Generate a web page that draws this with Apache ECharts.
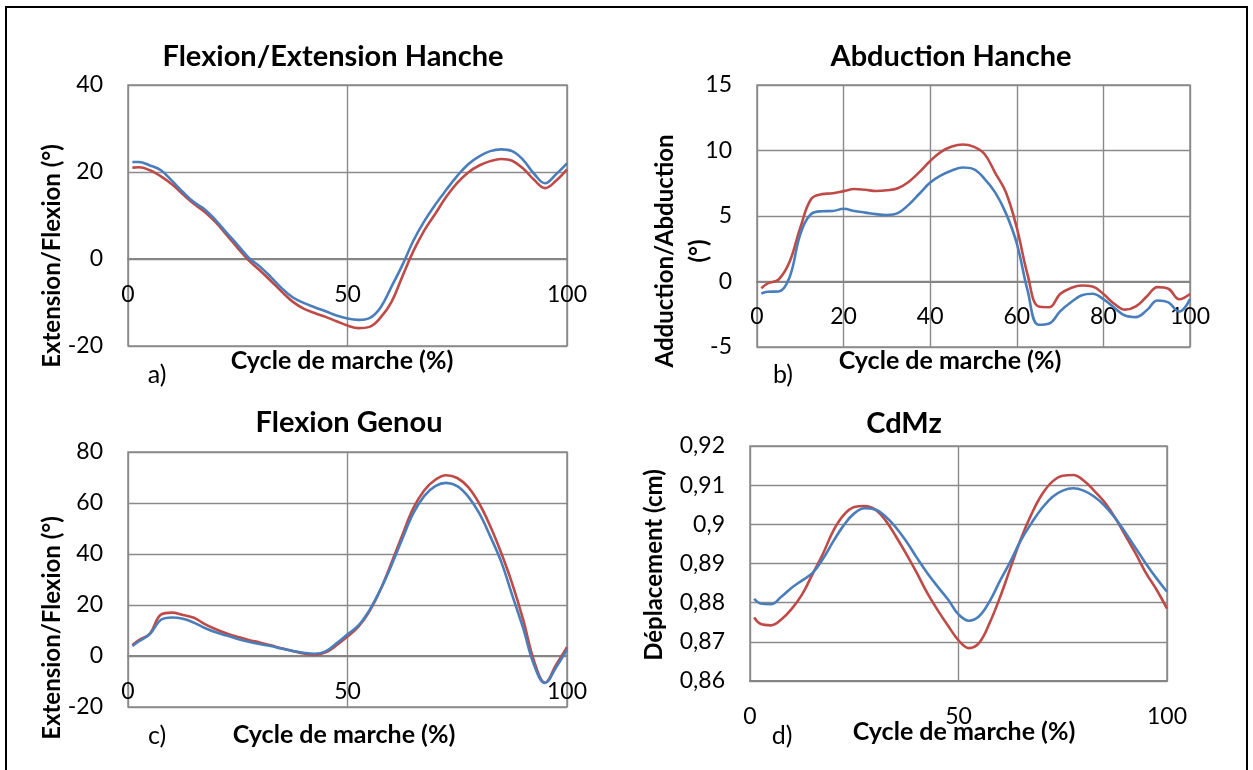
<!DOCTYPE html>
<html>
<head>
<meta charset="utf-8">
<script src="https://cdn.jsdelivr.net/npm/echarts@6/dist/echarts.min.js"></script>
<style>
  html, body { margin: 0; padding: 0; background: #ffffff; }
  #chart { width: 1253px; height: 770px; }
</style>
</head>
<body>
<div id="chart"></div>
<script>
// Gait cycle sampling (% of cycle)
const cycle = [1, 2.5, 5, 7.5, 10, 12.5, 15, 17.5, 20, 22.5, 25, 27.5, 30, 32.5, 35, 37.5, 40, 42.5, 45, 47.5,
  50, 52.5, 55, 57.5, 60, 62.5, 65, 67.5, 70, 72.5, 75, 77.5, 80, 82.5, 85, 87.5, 90, 92.5, 95, 97.5, 100];

// a) Hip flexion/extension (°)
const hipFlexBlue = [22.3, 22.3, 21.5, 20.4, 18.0, 15.4, 13.1, 11.4, 8.9, 6.0, 3.2, 0.3, -1.7, -4.1, -6.7, -8.8,
  -10.1, -11.1, -12.0, -13.0, -13.7, -14.0, -13.6, -11.2, -6.4, -1.4, 4.2, 8.7, 12.5, 15.9, 19.1, 21.8, 23.6,
  24.8, 25.2, 24.8, 22.8, 19.6, 17.4, 19.5, 22.0];
const hipFlexRed = [21.0, 21.1, 20.4, 19.0, 17.2, 14.9, 12.7, 10.8, 8.4, 5.5, 2.5, -0.3, -2.6, -5.0, -7.5, -9.8,
  -11.4, -12.4, -13.3, -14.3, -15.3, -15.9, -15.6, -13.5, -9.9, -4.0, 1.8, 6.6, 10.4, 14.3, 17.5, 19.9, 21.5,
  22.5, 23.0, 22.6, 20.8, 18.2, 16.3, 18.0, 20.6];

// b) Hip abduction (°)
const hipAbdBlue = [-0.92, -0.78, -0.76, 0.3, 3.6, 5.15, 5.36, 5.38, 5.55, 5.38, 5.26, 5.14, 5.08, 5.22, 5.85,
  6.7, 7.55, 8.1, 8.48, 8.7, 8.58, 7.86, 6.8, 5.2, 2.9, -0.7, -3.3, -3.2, -2.28, -1.58, -1.05, -0.93, -1.35,
  -2.0, -2.6, -2.72, -2.2, -1.45, -1.6, -2.3, -1.35];
const hipAbdRed = [-0.52, -0.15, 0.15, 1.48, 4.1, 6.3, 6.67, 6.73, 6.9, 7.06, 7.0, 6.91, 6.96, 7.12, 7.6, 8.35,
  9.2, 9.9, 10.3, 10.46, 10.3, 9.75, 8.3, 6.8, 4.1, 0.5, -1.9, -1.96, -0.95, -0.5, -0.3, -0.38, -0.95, -1.7,
  -2.15, -1.9, -1.15, -0.43, -0.55, -1.35, -0.95];

// c) Knee flexion (°)
const kneeFlexBlue = [3.9, 5.8, 8.6, 14.2, 15.1, 14.6, 13.1, 11.0, 9.3, 8.0, 6.7, 5.6, 4.7, 3.9, 2.9, 2.0, 1.3,
  0.9, 1.8, 5.0, 8.5, 12.0, 18.0, 26.0, 35.5, 46.0, 56.0, 62.8, 66.6, 67.9, 66.6, 62.5, 56.0, 47.0, 37.0, 24.0,
  11.0, -3.5, -10.6, -4.5, 2.5];
const kneeFlexRed = [4.3, 6.2, 8.8, 16.2, 17.0, 16.1, 15.0, 12.5, 10.5, 8.8, 7.5, 6.3, 5.3, 4.2, 3.0, 2.0, 1.0,
  0.4, 1.4, 4.2, 7.6, 11.5, 17.5, 26.0, 36.5, 47.5, 58.0, 65.0, 69.1, 70.9, 69.8, 66.2, 59.8, 51.0, 40.5, 28.5,
  14.4, -2.0, -10.5, -3.5, 3.5];

// d) Vertical centre of mass displacement (cm)
const comZBlue = [0.8810, 0.8798, 0.8796, 0.8815, 0.8838, 0.8857, 0.8876, 0.8912, 0.8957, 0.8998, 0.9028, 0.9041,
  0.9038, 0.9020, 0.8992, 0.8956, 0.8915, 0.8876, 0.8841, 0.8808, 0.8770, 0.8754, 0.8766, 0.8804, 0.8857, 0.8906,
  0.8960, 0.9003, 0.9041, 0.9070, 0.9086, 0.9092, 0.9086, 0.9071, 0.9048, 0.9017, 0.8979, 0.8939, 0.8899, 0.8862,
  0.8828];
const comZRed = [0.8762, 0.8746, 0.8742, 0.8757, 0.8784, 0.8821, 0.8873, 0.8925, 0.8984, 0.9024, 0.9044, 0.9047,
  0.9038, 0.9010, 0.8969, 0.8924, 0.8876, 0.8825, 0.8781, 0.8741, 0.8704, 0.8684, 0.8698, 0.8749, 0.8815, 0.8890,
  0.8964, 0.9026, 0.9076, 0.9109, 0.9124, 0.9126, 0.9112, 0.9086, 0.9057, 0.9018, 0.8972, 0.8925, 0.8875, 0.8833,
  0.8785];

// Axis ranges: [min, max, interval]
const xRangeA = [0, 100, 50], yRangeA = [-20, 40, 20];
const xRangeB = [0, 100, 20], yRangeB = [-5, 15, 5];
const xRangeC = [0, 100, 50], yRangeC = [-20, 80, 20];
const xRangeD = [0, 100, 50], yRangeD = [0.86, 0.92, 0.01];

const panelTitles = ['Flexion/Extension Hanche', 'Abduction Hanche', 'Flexion Genou', 'CdMz'];
const yTitles = ['Extension/Flexion (°)', 'Adduction/Abduction\n(°)', 'Extension/Flexion (°)', 'Déplacement (cm)'];
const xTitle = 'Cycle de marche (%)';
const panelTags = ['a)', 'b)', 'c)', 'd)'];

const BLUE = '#4a7ebb';
const RED = '#be4b48';
const GRID_GRAY = '#8a8a8a';
const FONT = 'Lato, "Open Sans", sans-serif';

const grids = [
  { left: 128, top: 85, width: 439, height: 261 },
  { left: 757, top: 85, width: 433, height: 262 },
  { left: 128, top: 452, width: 439, height: 255 },
  { left: 750, top: 446, width: 417, height: 235 }
];

function commaNum(v) {
  return String(Math.round(v * 100) / 100).replace('.', ',');
}

// The horizontal axis crosses the vertical one at 0 (or at the bottom when 0 is out of range)
function crossingOffset(g, yr) {
  if (yr[0] >= 0 || yr[1] <= 0) return 0;
  return -g.height * (0 - yr[0]) / (yr[1] - yr[0]);
}

function xAxisFor(idx, r, yr) {
  return {
    type: 'value', gridIndex: idx, min: r[0], max: r[1], interval: r[2],
    offset: crossingOffset(grids[idx], yr),
    axisLine: { show: true, onZero: false, lineStyle: { color: '#858585', width: 2.2 } },
    axisTick: { show: false },
    axisLabel: { margin: 24, color: '#000', fontFamily: FONT, fontSize: 23, showMinLabel: true, showMaxLabel: true },
    splitLine: { show: true, lineStyle: { color: GRID_GRAY, width: 1.4 } }
  };
}

function yAxisFor(idx, r, fmt) {
  return {
    type: 'value', gridIndex: idx, min: r[0], max: r[1], interval: r[2],
    axisLine: { show: false, onZero: false },
    axisTick: { show: false },
    axisLabel: { margin: 25, color: '#000', fontFamily: FONT, fontSize: 23, formatter: fmt },
    splitLine: { show: true, lineStyle: { color: GRID_GRAY, width: 1.4 } }
  };
}

function pairs(ys) { return cycle.map((x, i) => [x, ys[i]]); }

function lineSeries(idx, name, ys, color) {
  return {
    type: 'line', name: name, xAxisIndex: idx, yAxisIndex: idx,
    data: pairs(ys), smooth: 0.4, symbol: 'none',
    lineStyle: { color: color, width: 2.6 }, itemStyle: { color: color },
    z: color === RED ? 3 : 4
  };
}

function text(x, y, str, size, bold, rot) {
  return {
    type: 'text', x: x, y: y, rotation: rot || 0, z: 10,
    style: {
      text: str, x: 0, y: 0, align: 'center', verticalAlign: 'middle',
      font: (bold ? 'bold ' : '') + size + 'px ' + FONT, fill: '#000', lineHeight: 34
    }
  };
}

const chart = echarts.init(document.getElementById('chart'), null, { renderer: 'canvas' });

chart.setOption({
  backgroundColor: '#ffffff',
  animation: false,
  grid: grids.map(g => Object.assign({ show: true, borderColor: '#8a8a8a', borderWidth: 1.5, containLabel: false }, g)),
  xAxis: [xAxisFor(0, xRangeA, yRangeA), xAxisFor(1, xRangeB, yRangeB), xAxisFor(2, xRangeC, yRangeC), xAxisFor(3, xRangeD, yRangeD)],
  yAxis: [yAxisFor(0, yRangeA), yAxisFor(1, yRangeB), yAxisFor(2, yRangeC), yAxisFor(3, yRangeD, commaNum)],
  series: [
    lineSeries(0, 'Série 1', hipFlexBlue, BLUE), lineSeries(0, 'Série 2', hipFlexRed, RED),
    lineSeries(1, 'Série 1', hipAbdBlue, BLUE), lineSeries(1, 'Série 2', hipAbdRed, RED),
    lineSeries(2, 'Série 1', kneeFlexBlue, BLUE), lineSeries(2, 'Série 2', kneeFlexRed, RED),
    lineSeries(3, 'Série 1', comZBlue, BLUE), lineSeries(3, 'Série 2', comZRed, RED)
  ],
  graphic: [
    { type: 'rect', z: 0, shape: { x: 6, y: 7, width: 1241, height: 800 }, style: { fill: 'none', stroke: '#000', lineWidth: 2 } },
    text(333, 57, panelTitles[0], 29, true),
    text(951, 57, panelTitles[1], 29, true),
    text(349, 423, panelTitles[2], 29, true),
    text(904, 424, panelTitles[3], 29, true),
    text(52, 256, yTitles[0], 24, true, Math.PI / 2),
    text(682, 251, yTitles[1], 24, true, Math.PI / 2),
    text(52, 628, yTitles[2], 24, true, Math.PI / 2),
    text(654, 565, yTitles[3], 24, true, Math.PI / 2),
    text(342, 361, xTitle, 25, true),
    text(950, 361, xTitle, 25, true),
    text(344, 735, xTitle, 25, true),
    text(964, 732, xTitle, 25, true),
    text(157, 375, panelTags[0], 25, false),
    text(783, 375, panelTags[1], 25, false),
    text(157, 736, panelTags[2], 25, false),
    text(782, 736, panelTags[3], 25, false)
  ]
});
</script>
</body>
</html>
